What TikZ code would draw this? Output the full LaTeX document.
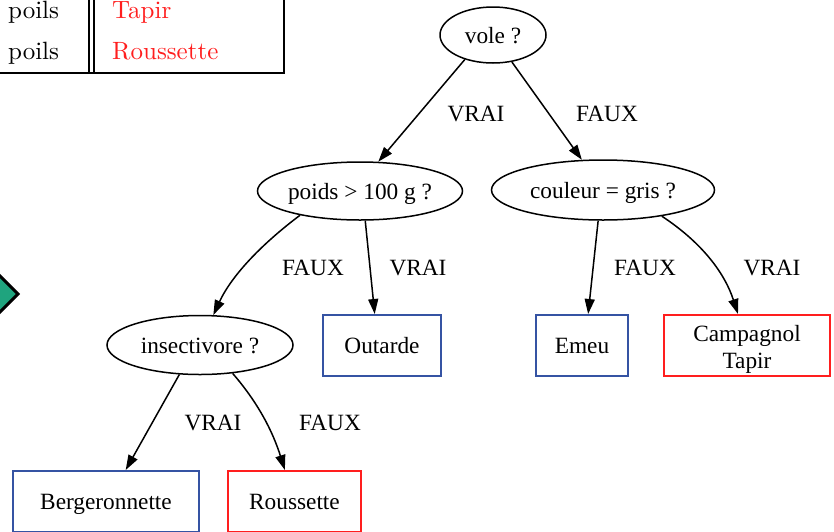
\documentclass[tikz,border=0pt]{standalone}
\usepackage{fontspec}
\newfontfamily\tms{Liberation Serif}
\newfontfamily\lmten{lmroman10-regular}[Extension=.otf]
\usetikzlibrary{shapes.geometric,arrows.meta}
\definecolor{leafblue}{HTML}{3553A3}
\definecolor{leafred}{HTML}{FF1E1E}
\definecolor{diamgreen}{HTML}{1FA47E}
\begin{document}
\begin{tikzpicture}[x=1pt,y=-1pt,
  tree/.style={font=\tms\fontsize{23.3}{27}\selectfont},
  boxed/.style={tree,text height=16pt,text depth=0pt},
  quest/.style={boxed,ellipse,draw,line width=1.5pt,inner sep=0pt},
  leafb/.style={boxed,rectangle,draw=leafblue,line width=2pt,inner sep=0pt,minimum height=61pt},
  leafr/.style={boxed,rectangle,draw=leafred,line width=2pt,inner sep=0pt,minimum height=61pt,align=center},
  lab/.style={tree},
  edge/.style={line width=1.5pt,-{Triangle[length=15pt,width=10pt]}},
  tab/.style={font=\lmten\fontsize{25}{30}\selectfont,inner sep=0pt,anchor=base west},
  rule/.style={line width=1.5pt}]
\useasboundingbox (0,0) rectangle (834,531);
\clip (0,0) rectangle (834,531);
\fill[white] (0,0) rectangle (834,531);

% partial table
\draw[rule] (89,-5) -- (89,73);
\draw[rule] (94,-5) -- (94,73);
\draw[rule] (284,-5) -- (284,73);
\draw[line width=2pt] (-5,73) -- (285,73);
\node[tab] (p1) at (8,18.5) {poils};
\node[tab] (p2) at (8,59) {poils};
\node[tab,text=leafred] (t1) at (112,18.5) {Tapir};
\node[tab,text=leafred] (t2) at (112,59) {Roussette};

% partial diamond
\draw[fill=diamgreen,line width=3pt,line join=miter] (18,294) -- (-20,256) -- (-58,294) -- (-20,332) -- cycle;

% tree nodes
\node[quest,minimum width=106pt,minimum height=56pt] (vole) at (493,35) {vole ?};
\node[quest,minimum width=205pt,minimum height=58pt] (poids) at (360,191) {poids > 100 g ?};
\node[quest,minimum width=223pt,minimum height=60pt] (coul) at (603,190) {couleur = gris ?};
\node[quest,minimum width=186pt,minimum height=59pt] (ins) at (200,345) {insectivore ?};
\node[leafb,minimum width=118pt] (out) at (382,345.5) {Outarde};
\node[leafb,minimum width=92pt] (emeu) at (582,345.5) {Emeu};
\node[leafr,minimum width=166pt,text height=46pt,text depth=0pt] (camp) at (747,345.5) {Campagnol\\Tapir};
\node[leafb,minimum width=186pt] (berg) at (106,501.5) {Bergeronnette};
\node[leafr,minimum width=133pt] (rous) at (294.5,501.5) {Roussette};

% edges
\draw[edge] (vole.221) -- (poids.58);
\draw[edge] (vole.305) -- (coul.125);
\draw[edge] (poids.202) .. controls +(-36,27) and +(19,-41) .. (ins.66);
\draw[edge] (poids.280) -- (out.103);
\draw[edge] (coul.261) -- (emeu.79);
\draw[edge] (coul.336) .. controls +(38,25) and +(-14,-43) .. (camp.106);
\draw[edge] (ins.235) -- (berg.58);
\draw[edge] (ins.319) .. controls +(26,30) and +(-12,-38) .. (rous.107);

% edge labels
\node[lab] (l1) at (476,114) {VRAI};
\node[lab] (l2) at (607,114) {FAUX};
\node[lab] (l3) at (313,268) {FAUX};
\node[lab] (l4) at (418,268) {VRAI};
\node[lab] (l5) at (645,268) {FAUX};
\node[lab] (l6) at (772,268) {VRAI};
\node[lab] (l7) at (213,423) {VRAI};
\node[lab] (l8) at (330,423) {FAUX};
\end{tikzpicture}
\end{document}
